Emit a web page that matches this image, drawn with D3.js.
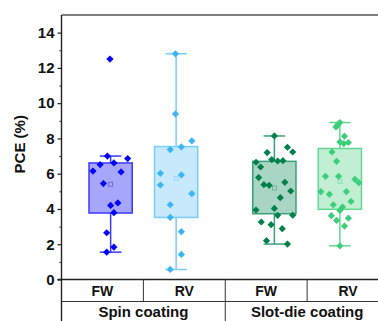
<!DOCTYPE html>
<html>
<head>
<meta charset="utf-8">
<script src="https://cdn.jsdelivr.net/npm/d3@7"></script>
<style>
  body { margin: 0; background: #fff; }
  svg { display: block; font-family: 'Liberation Sans', Arial, sans-serif; }
</style>
</head>
<body>
<div id="chart"></div>
<script>
const width = 378;
const height = 321;

// categories on the x axis, grouped by coating method
const categories = ['FW', 'RV', 'FW', 'RV'];
const positions = [1, 2, 3.5, 4.5];
const groups = ['Spin coating', 'Slot-die coating'];
const yTicks = [0, 2, 4, 6, 8, 10, 12, 14];

// PCE values (%) and horizontal jitter (in category units) of each point
const spinFW = [12.5, 7.0, 6.86, 6.61, 6.52, 6.15, 6.1, 5.44, 4.34, 4.2, 3.79, 2.65, 1.84, 1.55];
const spinFWJitter = [-0.01, -0.05, 0.26, 0.05, -0.16, -0.27, 0.16, -0.11, 0.11, 0.0, 0.05, -0.06, 0.05, -0.06];
const spinRV = [12.8, 9.39, 7.86, 7.52, 7.37, 6.02, 5.93, 5.36, 4.87, 4.24, 3.52, 2.71, 1.42, 0.57];
const spinRVJitter = [-0.01, -0.01, 0.24, 0.08, -0.09, -0.24, 0.08, -0.24, 0.24, -0.09, -0.09, 0.08, 0.08, -0.09];
const slotFW = [8.14, 7.5, 7.23, 7.2, 6.8, 6.72, 6.74, 6.65, 6.38, 5.78, 5.51, 5.38, 5.34, 5.02, 4.64, 3.94, 4.03, 3.64, 3.65, 3.26, 3.11, 2.88, 2.2, 2.01];
const slotFWJitter = [0, 0.2, 0.28, -0.11, -0.04, 0.05, 0.13, -0.28, -0.21, -0.24, 0.16, -0.16, -0.08, 0.25, 0.09, -0.28, 0, 0.05, 0.28, -0.2, -0.05, 0.12, -0.12, 0.2];
const slotRV = [8.9, 8.73, 8.65, 8.13, 7.8, 7.71, 7.77, 7.23, 6.7, 5.85, 5.85, 5.68, 5.49, 4.98, 4.83, 4.98, 4.43, 4.24, 4.11, 3.92, 3.62, 3.48, 3.35, 3.03, 1.91];
const slotRVJitter = [0, -0.04, -0.06, 0.07, 0, 0.06, 0.13, -0.12, -0.05, -0.22, -0.02, 0.23, 0.29, -0.29, -0.16, 0.1, 0.17, -0.1, 0.04, 0, -0.13, 0.13, -0.05, 0.07, 0];

// box statistics
const q1 = [3.77, 3.52, 3.73, 3.98];
const q3 = [6.61, 7.54, 6.70, 7.43];
const whiskerLow = [1.55, 0.57, 2.01, 1.91];
const whiskerHigh = [7.0, 12.8, 8.14, 8.9];
const means = [5.40, 5.72, 5.19, 5.57];

const seriesValues = [spinFW, spinRV, slotFW, slotRV];
const seriesJitter = [spinFWJitter, spinRVJitter, slotFWJitter, slotRVJitter];

const pointColors = ['#0000ff', '#3ab6f5', '#00804a', '#3ccf7a'];
const boxFills = ['#a6a6fb', '#c8e8fc', '#a9d6c4', '#c2eed3'];
const boxStrokes = ['#3a3aff', '#78cdf9', '#3d9f78', '#62d893'];

const boxWidth = 0.66;
const capWidth = 0.33;

const x = d3.scaleLinear().domain([0.25, 5.25]).range([61.5, 389]);
const y = d3.scaleLinear().domain([0, 15]).range([279.5, 15]);

const svg = d3.select('#chart').append('svg')
  .attr('width', width)
  .attr('height', height);

// top frame
svg.append('line')
  .attr('x1', x(0.25)).attr('x2', x(5.25))
  .attr('y1', y(15)).attr('y2', y(15))
  .attr('stroke', '#555').attr('stroke-width', 1.5);

// y axis: major and minor ticks
const yAxis = svg.append('g')
  .attr('transform', `translate(${x(0.25)},0)`)
  .call(d3.axisLeft(y).tickValues(yTicks).tickSize(4).tickPadding(3));
yAxis.select('.domain').remove();
yAxis.selectAll('line').attr('stroke', '#222').attr('stroke-width', 1.2);
yAxis.selectAll('text')
  .attr('font-size', 15).attr('font-weight', 'bold')
  .attr('font-family', "'Liberation Sans', Arial, sans-serif")
  .attr('fill', '#111');

const yMinor = svg.append('g')
  .attr('transform', `translate(${x(0.25)},0)`)
  .call(d3.axisLeft(y).tickValues([1, 3, 5, 7, 9, 11, 13]).tickSize(2).tickFormat(''));
yMinor.select('.domain').remove();
yMinor.selectAll('line').attr('stroke', '#222').attr('stroke-width', 1);

svg.append('text')
  .attr('transform', `translate(25,${(y(0) + y(15)) / 2 - 3}) rotate(-90)`)
  .attr('text-anchor', 'middle')
  .attr('font-size', 15).attr('font-weight', 'bold')
  .attr('fill', '#111')
  .text('PCE (%)');

// boxes
const boxes = svg.append('g');
positions.forEach((p, i) => {
  const g = boxes.append('g');
  g.append('line')
    .attr('x1', x(p)).attr('x2', x(p))
    .attr('y1', y(whiskerLow[i])).attr('y2', y(whiskerHigh[i]))
    .attr('stroke', boxStrokes[i]).attr('stroke-width', 1.5);
  [whiskerLow[i], whiskerHigh[i]].forEach(v => {
    g.append('line')
      .attr('x1', x(p - capWidth / 2)).attr('x2', x(p + capWidth / 2))
      .attr('y1', y(v)).attr('y2', y(v))
      .attr('stroke', boxStrokes[i]).attr('stroke-width', 1.5);
  });
  g.append('rect')
    .attr('x', x(p - boxWidth / 2))
    .attr('y', y(q3[i]))
    .attr('width', x(p + boxWidth / 2) - x(p - boxWidth / 2))
    .attr('height', y(q1[i]) - y(q3[i]))
    .attr('fill', boxFills[i])
    .attr('stroke', boxStrokes[i]).attr('stroke-width', 1.5);
  g.append('rect')
    .attr('x', x(p) - 2).attr('y', y(means[i]) - 2)
    .attr('width', 4).attr('height', 4)
    .attr('fill', 'none')
    .attr('stroke', boxStrokes[i]).attr('stroke-width', 0.8)
    .attr('opacity', 0.7);
});

// scattered points
const diamond = 'M0,-3.6L3.6,0L0,3.6L-3.6,0Z';
positions.forEach((p, i) => {
  svg.append('g').selectAll('path')
    .data(seriesValues[i])
    .enter()
    .append('path')
    .attr('d', diamond)
    .attr('transform', (d, j) => `translate(${x(p + seriesJitter[i][j])},${y(d)})`)
    .attr('fill', pointColors[i]);
});

// category table below the axis
const rowTop = y(0);
const rowMid = y(0) + 22;
const table = svg.append('g').attr('stroke', '#333').attr('stroke-width', 1);
table.append('line').attr('x1', x(0.25) - 4).attr('x2', x(5.25)).attr('y1', rowTop).attr('y2', rowTop)
  .attr('stroke', '#222').attr('stroke-width', 1.4);
table.append('line').attr('x1', x(0.25)).attr('x2', x(5.25)).attr('y1', rowMid).attr('y2', rowMid);
[1.5, 4.0].forEach(b => {
  table.append('line').attr('x1', x(b)).attr('x2', x(b)).attr('y1', rowTop).attr('y2', rowMid);
});
table.append('line').attr('x1', x(2.75)).attr('x2', x(2.75)).attr('y1', rowTop).attr('y2', height);
svg.append('line')
  .attr('x1', x(0.25)).attr('x2', x(0.25))
  .attr('y1', y(15)).attr('y2', height)
  .attr('stroke', '#222').attr('stroke-width', 1.4);

const cellCenters = [0.875, 2.125, 3.375, 4.625];
svg.append('g').selectAll('text')
  .data(categories)
  .enter()
  .append('text')
  .attr('x', (d, i) => x(cellCenters[i]))
  .attr('y', rowTop + 16)
  .attr('text-anchor', 'middle')
  .attr('font-size', 14).attr('font-weight', 'bold')
  .attr('fill', '#111')
  .text(d => d);

svg.append('g').selectAll('text')
  .data(groups)
  .enter()
  .append('text')
  .attr('x', (d, i) => x(i === 0 ? 1.5 : 4.0))
  .attr('y', rowMid + 15)
  .attr('text-anchor', 'middle')
  .attr('font-size', 15).attr('font-weight', 'bold')
  .attr('fill', '#111')
  .text(d => d);
</script>
</body>
</html>
